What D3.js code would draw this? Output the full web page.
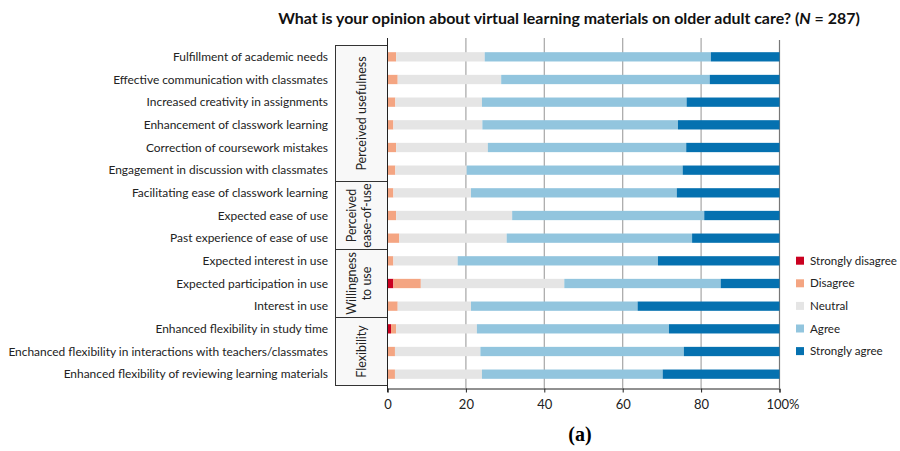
<!DOCTYPE html>
<html><head><meta charset="utf-8">
<script src="https://cdn.jsdelivr.net/npm/d3@7"></script>
<style>body{margin:0;background:#fff}svg{display:block}</style>
</head><body>
<svg id="c" width="900" height="451"></svg>
<script>
const items = [
 "Fulfillment of academic needs",
 "Effective communication with classmates",
 "Increased creativity in assignments",
 "Enhancement of classwork learning",
 "Correction of coursework mistakes",
 "Engagement in discussion with classmates",
 "Facilitating ease of classwork learning",
 "Expected ease of use",
 "Past experience of ease of use",
 "Expected interest in use",
 "Expected participation in use",
 "Interest in use",
 "Enhanced flexibility in study time",
 "Enchanced flexibility in interactions with teachers/classmates",
 "Enhanced flexibility of reviewing learning materials"
];
const responses = ["Strongly disagree","Disagree","Neutral","Agree","Strongly agree"];
const stronglyDisagree = [0,0,0,0,0,0,0,0,0,0,1.5,0,0.9,0,0];
const disagree = [2.2,2.6,2.0,1.5,2.2,2.0,1.5,2.2,3.0,1.5,7.0,2.6,1.3,1.9,1.9];
const neutral = [22.6,26.4,22.1,22.7,23.4,18.2,19.8,29.6,27.4,16.4,36.6,18.7,20.6,21.8,22.2];
const agree = [57.7,53.2,52.2,49.9,50.6,55.1,52.5,49.0,47.3,51.1,39.9,42.5,49.0,51.9,46.1];
const stronglyAgree = [17.5,17.8,23.7,25.9,23.8,24.7,26.2,19.2,22.3,31.0,15.0,36.2,28.2,24.4,29.8];
const groups = [
 {lines:["Perceived usefulness"], from:0, to:5},
 {lines:["Perceived","ease-of-use"], from:6, to:8},
 {lines:["Willingness","to use"], from:9, to:11},
 {lines:["Flexibility"], from:12, to:14}
];
const xTicks = [0,20,40,60,80,100];
const colors = ["#ca0020","#f4a582","#e5e5e5","#92c5de","#0571b0"];
const titleText = "What is your opinion about virtual learning materials on older adult care? (";
const panelLabel = "(a)";

const svg = d3.select("#c");
const FONT = "Lato, 'Open Sans', sans-serif";
const x = d3.scaleLinear().domain([0,100]).range([387.5,779.5]);
const y = d3.scaleBand().domain(items).range([45.5,385.5]).paddingInner(0.59).paddingOuter(0.295);
const step = y.step();

const rows = items.map((name,i)=>({name, "Strongly disagree":stronglyDisagree[i], "Disagree":disagree[i], "Neutral":neutral[i], "Agree":agree[i], "Strongly agree":stronglyAgree[i]}));
const stack = d3.stack().keys(responses)(rows);

// group box
const bandTop = i => 45.5 + i*step;
svg.append("rect").attr("x",335.5).attr("y",45.5).attr("width",52).attr("height",340)
  .attr("fill","#f8f8f8").attr("stroke","#333").attr("stroke-width",1);
groups.slice(1).forEach(g=>{
  svg.append("line").attr("x1",335.5).attr("x2",387.5).attr("y1",bandTop(g.from)).attr("y2",bandTop(g.from))
    .attr("stroke","#333").attr("stroke-width",1);
});
groups.forEach(g=>{
  const cy = (bandTop(g.from)+bandTop(g.to+1))/2;
  const n = g.lines.length;
  const t = svg.append("text").attr("transform",`translate(${n>1?358.5:361},${cy}) rotate(-90)`)
    .attr("text-anchor","middle").attr("font-family",FONT).attr("font-size",12.5).attr("fill","#222");
  g.lines.forEach((l,k)=>{
    t.append("tspan").attr("x",0).attr("dy", k===0 ? (-(n-1)*7.5+4.5) : 15.5).text(l);
  });
});

// gridlines
svg.append("g").selectAll("line").data(xTicks.filter(d=>d>0&&d<100)).join("line")
  .attr("x1",d=>x(d)).attr("x2",d=>x(d)).attr("y1",38).attr("y2",388)
  .attr("stroke","#a6a6a6").attr("stroke-width",1.2);
svg.append("line").attr("x1",x(100)).attr("x2",x(100)).attr("y1",40).attr("y2",388)
  .attr("stroke","#777").attr("stroke-width",1.2);

// bars
svg.append("g").selectAll("g").data(stack).join("g").attr("fill",(d,i)=>colors[i])
  .selectAll("rect").data(d=>d).join("rect")
  .attr("x",d=>x(d[0])).attr("width",d=>x(d[1])-x(d[0]))
  .attr("y",d=>y(d.data.name)).attr("height",y.bandwidth());

// axis left line
svg.append("line").attr("x1",387.5).attr("x2",387.5).attr("y1",38).attr("y2",392).attr("stroke","#222").attr("stroke-width",1);
// x axis
const xa = svg.append("g").attr("transform","translate(0,388.5)")
  .call(d3.axisBottom(x).tickValues(xTicks).tickSize(4).tickFormat(d=>d===100?"100%":d));
xa.select(".domain").attr("stroke","#222");
xa.selectAll(".tick line").attr("stroke","#222");
xa.selectAll("text").attr("font-family",FONT).attr("font-size",13).attr("fill","#222").attr("dy","1.0em");
xa.selectAll(".tick").filter(d=>d===100).select("text").attr("dx","3");

// item labels
const lab = svg.append("g").selectAll("text").data(items).join("text")
  .attr("x",328).attr("y",d=>y(d)+y.bandwidth()/2).attr("dy","0.35em")
  .attr("text-anchor","end").attr("font-family",FONT).attr("font-size",12).attr("fill","#222").text(d=>d);
const longest = d3.max(lab.nodes(), n=>n.getComputedTextLength());
lab.attr("font-size", 12*320/longest);

// title
const tt = svg.append("text").attr("x",569).attr("y",24).attr("text-anchor","middle")
  .attr("font-family",FONT).attr("font-weight","bold").attr("font-size",15).attr("fill","#111");
tt.append("tspan").text(titleText);
tt.append("tspan").attr("font-style","italic").text("N");
tt.append("tspan").text(" = 287)");
const tw = tt.node().getComputedTextLength();
tt.attr("font-size", 15*582/tw);

// legend
const lg = svg.append("g").selectAll("g").data(responses).join("g")
  .attr("transform",(d,i)=>`translate(796,${260.7+i*22.6})`);
lg.append("rect").attr("x",0).attr("y",-4).attr("width",8).attr("height",8).attr("fill",(d,i)=>colors[i]);
const lt = lg.append("text").attr("x",14).attr("dy","0.35em").attr("font-family",FONT).attr("font-size",12.5)
  .attr("fill","#222").text(d=>d);
const lmax = d3.max(lt.nodes(), n=>n.getComputedTextLength());
if (lmax > 87) lt.attr("font-size", 12.5*87/lmax);

// panel label
svg.append("text").attr("x",580).attr("y",441).attr("text-anchor","middle")
  .attr("font-family","'Liberation Serif','DejaVu Serif',serif").attr("font-weight","bold").attr("font-size",20).text(panelLabel);
</script>
</body></html>
